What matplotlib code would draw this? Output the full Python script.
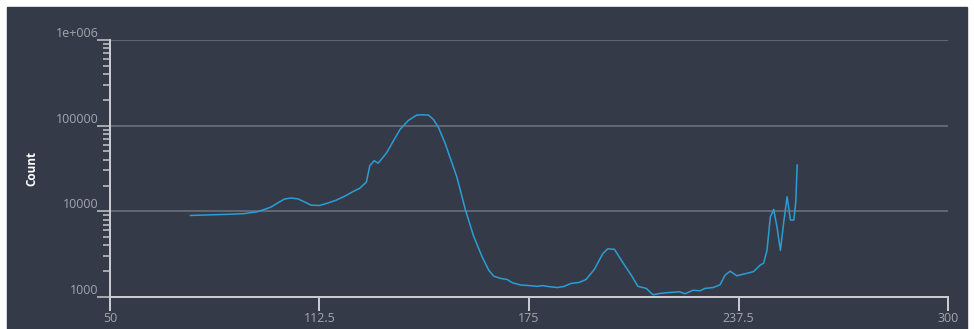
import numpy as np
import matplotlib.pyplot as plt
from matplotlib.patches import Rectangle
from matplotlib.ticker import FixedLocator, LogLocator, NullFormatter

plt.rcParams["font.family"] = ["Open Sans", "DejaVu Sans"]

# histogram
xs = [74, 80, 86, 90, 94, 96, 98, 100, 102, 104, 106, 108, 110, 112.5, 115,
      117.5, 120, 122.5, 124.5, 126.5, 127.5, 128.8, 130, 132.5, 134.5, 136.5,
      139, 141.5, 143, 145, 146.5, 148, 150, 151.5, 153.5, 156, 158.5, 161,
      163, 164.5, 166.5, 168.5, 170, 172.5, 175, 177.5, 179, 181, 183.5, 185.5,
      187.5, 190, 192, 194.5, 197, 198.5, 200.5, 202, 203.5, 205.5, 207.5, 210,
      212, 214, 217, 220, 221.5, 224, 226, 227.5, 230, 232, 233.5, 235, 237,
      240, 242, 244, 245, 246, 247, 248, 249, 250, 251, 252, 253, 254, 254.6, 255]
counts = [8950, 9100, 9250, 9400, 9900, 10500, 11200, 12500, 13900, 14300, 14000,
          12900, 11800, 11700, 12500, 13500, 15000, 17000, 18600, 22000, 34000,
          39000, 36500, 48000, 66000, 90000, 115000, 133000, 134000, 133000,
          118000, 95000, 62000, 42000, 25000, 10500, 5100, 2950, 2050, 1750,
          1650, 1600, 1470, 1380, 1360, 1330, 1360, 1320, 1290, 1330, 1440, 1480,
          1600, 2100, 3200, 3650, 3600, 2900, 2350, 1800, 1330, 1260, 1060, 1100,
          1130, 1150, 1090, 1200, 1180, 1260, 1290, 1390, 1800, 2000, 1770, 1890,
          1980, 2360, 2480, 3500, 8600, 10500, 6500, 3500, 7500, 14800, 7900,
          7900, 12900, 34700]

xticks = [50, 112.5, 175, 237.5, 300]
xtick_labels = ["50", "112.5", "175", "237.5", "300"]
yticks = [1000, 10000, 100000, 1000000]
ytick_labels = ["1000", "10000", "100000", "1e+006"]

bg = "#353a48"
axis_col = "#c9cbd0"
text_col = "#a3a6ae"
px = 0.72  # points per pixel at dpi 100

fig = plt.figure(figsize=(9.74, 3.29), dpi=100, facecolor="white")
fig.patches.append(Rectangle((7 / 974, 0), 960 / 974, 322 / 329,
                             transform=fig.transFigure, color=bg, zorder=-10))

ax = fig.add_axes([110 / 974, 1 - 297 / 329, 838 / 974, 257 / 329])
ax.patch.set_alpha(0)

ax.plot(xs, counts, color="#2a9ed4", lw=1.1)

ax.set_yscale("log")
ax.set_xlim(50, 300)
ax.set_ylim(1000, 1000000)

ax.yaxis.set_major_locator(FixedLocator(yticks))
ax.set_yticks(yticks, ytick_labels)
ax.yaxis.set_minor_locator(LogLocator(base=10, subs=np.arange(2, 10)))
ax.yaxis.set_minor_formatter(NullFormatter())
ax.set_xticks(xticks, xtick_labels)

for y in yticks:
    ax.axhline(y, color="#6b6f7a", lw=1.2, zorder=0)

for s in ["top", "right"]:
    ax.spines[s].set_visible(False)
for s in ["left", "bottom"]:
    ax.spines[s].set_color(axis_col)
    ax.spines[s].set_linewidth(2 * px)
ax.spines["left"].set_zorder(5)

# left spine pokes below the x axis
ax.plot([0, 0], [0, -14 / 257], transform=ax.transAxes, color=axis_col,
        lw=2 * px, clip_on=False, solid_capstyle="butt")

ax.tick_params(axis="x", length=14 * px, width=2 * px, color=axis_col,
               labelcolor=text_col, labelsize=9, pad=0.5)
ax.tick_params(axis="y", which="major", length=13 * px, width=1.5 * px,
               color=axis_col, labelcolor=text_col, labelsize=9, pad=-1)
ax.tick_params(axis="y", which="minor", length=7 * px, width=1.5 * px, color=axis_col)
for lab in ax.get_yticklabels():
    lab.set_va("bottom")

ax.set_ylabel("Count", color="white", fontsize=8.5, fontweight="bold")
ax.yaxis.set_label_coords(-0.086, 0.5)

fig.savefig("out.png", dpi=100, facecolor="white")
